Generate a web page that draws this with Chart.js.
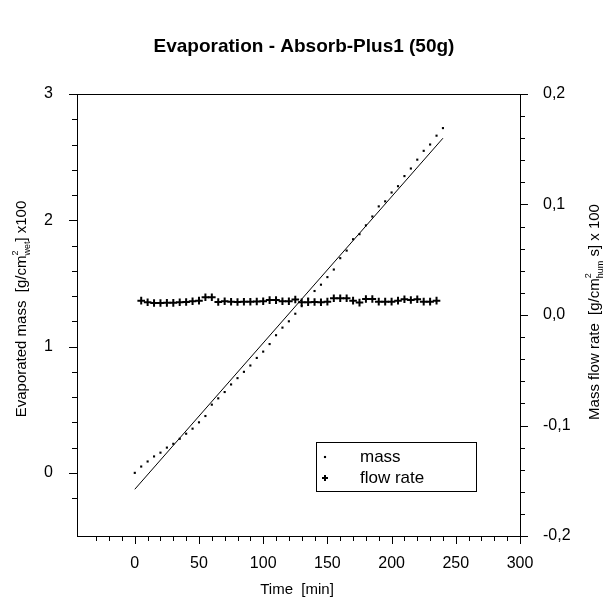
<!DOCTYPE html>
<html>
<head>
<meta charset="utf-8">
<title>Evaporation - Absorb-Plus1 (50g)</title>
<script src="https://cdn.jsdelivr.net/npm/chart.js@4.4.1/dist/chart.umd.min.js"></script>
<style>
  html, body { margin: 0; padding: 0; background: #fff; }
  canvas { display: block; }
</style>
</head>
<body>
<canvas id="evapChart" width="608" height="604"></canvas>
<script>
// evaporation chart – mass (left axis) and mass flow rate (right axis)

const CHART_TITLE = 'Evaporation - Absorb-Plus1 (50g)';

// evaporated mass [g/cm² wet] x100, read every 5 min
const massTimes = [0, 5, 10, 15, 20, 25, 30, 35, 40, 45, 50, 55, 60, 65, 70, 75, 80, 85, 90, 95,
  100, 105, 110, 115, 120, 125, 130, 135, 140, 145, 150, 155, 160, 165, 170, 175, 180, 185, 190,
  195, 200, 205, 210, 215, 220, 225, 230, 235, 240];
const massValues = [0.00, 0.05, 0.09, 0.13, 0.16, 0.20, 0.23, 0.27, 0.31, 0.35, 0.40, 0.45, 0.54,
  0.59, 0.64, 0.70, 0.75, 0.80, 0.85, 0.91, 0.96, 1.02, 1.09, 1.15, 1.20, 1.26, 1.32, 1.38, 1.44,
  1.49, 1.55, 1.61, 1.70, 1.76, 1.85, 1.89, 1.96, 2.03, 2.11, 2.15, 2.22, 2.27, 2.35, 2.41, 2.48,
  2.55, 2.60, 2.67, 2.73];

// mass flow rate [g/cm² hum s] x100
const flowTimes = [5, 10, 15, 20, 25, 30, 35, 40, 45, 50, 55, 60, 65, 70, 75, 80, 85, 90, 95, 100,
  105, 110, 115, 120, 125, 130, 135, 140, 145, 150, 155, 160, 165, 170, 175, 180, 185, 190, 195,
  200, 205, 210, 215, 220, 225, 230, 235];
const flowValues = [0.0130, 0.0115, 0.0108, 0.0108, 0.0110, 0.0110, 0.0115, 0.0118, 0.0125, 0.0130,
  0.0160, 0.0160, 0.0118, 0.0125, 0.0120, 0.0118, 0.0120, 0.0120, 0.0122, 0.0125, 0.0135, 0.0135,
  0.0125, 0.0125, 0.0140, 0.0115, 0.0115, 0.0118, 0.0115, 0.0121, 0.0151, 0.0151, 0.0151, 0.0130,
  0.0112, 0.0145, 0.0145, 0.0121, 0.0121, 0.0121, 0.0130, 0.0142, 0.0136, 0.0142, 0.0121, 0.0121,
  0.0130];

// linear fit through the mass points
const fitTimes = [0, 240];
const fitValues = [-0.13, 2.65];

// axis ranges and labelled ticks
const xRange = [-45, 300];
const xTickLabels = [0, 50, 100, 150, 200, 250, 300];
const massRange = [-0.5, 3];
const massTickLabels = [0, 1, 2, 3];
const flowRange = [-0.2, 0.2];
const flowTickLabels = ['-0,2', '-0,1', '0,0', '0,1', '0,2'];

const FONT = 'Arial, "Liberation Sans", Helvetica, sans-serif';

function toPoints(xs, ys) {
  return xs.map((x, i) => ({ x: x, y: ys[i] }));
}

// rounds float tick values so 0.06000000001 compares cleanly
function near(v, step) {
  return Math.abs(v / step - Math.round(v / step)) < 1e-6;
}

/**
 * Draws text with a stacked superscript/subscript part, centred at (cx, cy)
 * and rotated by `rot` radians.
 */
function drawRichText(ctx, parts, cx, cy, rot, size) {
  const big = size + 'px ' + FONT;
  const small = Math.round(size * 0.62) + 'px ' + FONT;
  ctx.save();
  let total = 0;
  const widths = parts.map((p) => {
    let w;
    if (p.t !== undefined) {
      ctx.font = big;
      w = ctx.measureText(p.t).width;
    } else {
      ctx.font = small;
      w = Math.max(ctx.measureText(p.sup).width, ctx.measureText(p.sub).width);
    }
    total += w;
    return w;
  });
  ctx.translate(cx, cy);
  ctx.rotate(rot);
  ctx.fillStyle = '#000';
  ctx.textBaseline = 'middle';
  ctx.textAlign = 'left';
  let x = -total / 2;
  parts.forEach((p, i) => {
    if (p.t !== undefined) {
      ctx.font = big;
      ctx.fillText(p.t, x, 0);
    } else {
      ctx.font = small;
      ctx.fillText(p.sup, x, -size * 0.4);
      ctx.fillText(p.sub, x, size * 0.38);
    }
    x += widths[i];
  });
  ctx.restore();
}

// frame, outward ticks, titles and the boxed legend
const decorPlugin = {
  id: 'decor',
  afterDraw(chart) {
    const ctx = chart.ctx;
    const area = chart.chartArea;
    const sx = chart.scales.x;
    const sy = chart.scales.y;
    const sy1 = chart.scales.y1;

    ctx.save();
    ctx.strokeStyle = '#000';
    ctx.lineWidth = 1;

    // top edge of the frame
    ctx.beginPath();
    ctx.moveTo(area.left, area.top + 0.5);
    ctx.lineTo(area.right, area.top + 0.5);
    ctx.stroke();

    ctx.beginPath();
    sx.ticks.forEach((t) => {
      if (!near(t.value, 10)) return;
      const px = Math.round(sx.getPixelForValue(t.value)) + 0.5;
      const len = near(t.value, 50) ? 8 : 5;
      ctx.moveTo(px, area.bottom);
      ctx.lineTo(px, area.bottom + len);
    });
    sy.ticks.forEach((t) => {
      if (!near(t.value, 0.2)) return;
      const py = Math.round(sy.getPixelForValue(t.value)) + 0.5;
      const len = near(t.value, 1) ? 8 : 5;
      ctx.moveTo(area.left, py);
      ctx.lineTo(area.left - len, py);
    });
    sy1.ticks.forEach((t) => {
      if (!near(t.value, 0.02)) return;
      const py = Math.round(sy1.getPixelForValue(t.value)) + 0.5;
      const len = near(t.value, 0.1) ? 8 : 5;
      ctx.moveTo(area.right, py);
      ctx.lineTo(area.right + len, py);
    });
    ctx.stroke();

    // chart title
    ctx.fillStyle = '#000';
    ctx.font = 'bold 19px ' + FONT;
    ctx.textAlign = 'center';
    ctx.textBaseline = 'middle';
    ctx.fillText(CHART_TITLE, 304, 47);

    // x axis title
    ctx.font = '15px ' + FONT;
    ctx.fillText('Time  [min]', 297, 590);
    ctx.restore();

    drawRichText(ctx, [
      { t: 'Evaporated mass  [g/cm' }, { sup: '2', sub: 'wet' }, { t: '] x100' },
    ], 22, 309, -Math.PI / 2, 15);
    drawRichText(ctx, [
      { t: 'Mass flow rate  [g/cm' }, { sup: '2', sub: 'hum' }, { t: ' s] x 100' },
    ], 595, 312, -Math.PI / 2, 15);

    // legend box
    ctx.save();
    ctx.strokeStyle = '#000';
    ctx.lineWidth = 1;
    ctx.strokeRect(316.5, 442.5, 160, 49);
    const items = [
      { label: 'mass', ds: 0, y: 457 },
      { label: 'flow rate', ds: 1, y: 478 },
    ];
    items.forEach((it) => {
      const o = chart.getDatasetMeta(it.ds).controller.getStyle(0);
      ctx.fillStyle = '#000';
      ctx.strokeStyle = '#000';
      ctx.lineWidth = o.borderWidth || 1;
      Chart.helpers.drawPoint(ctx, {
        pointStyle: o.pointStyle,
        radius: o.pointStyle === 'cross' ? 3 : o.radius,
        borderWidth: o.borderWidth,
        rotation: 0,
      }, 325, it.y);
      ctx.font = '17px ' + FONT;
      ctx.textAlign = 'left';
      ctx.textBaseline = 'middle';
      ctx.fillText(it.label, 360, it.y);
    });
    ctx.restore();
  },
};

function initChart() {
  const canvas = document.getElementById('evapChart');
  if (!canvas) return;
  const tickFont = { family: FONT, size: 16 };

  new Chart(canvas.getContext('2d'), {
    type: 'scatter',
    data: {
      datasets: [
        {
          label: 'mass',
          data: toPoints(massTimes, massValues),
          yAxisID: 'y',
          pointStyle: 'rect',
          pointRadius: 1.5,
          pointBorderWidth: 0,
          backgroundColor: '#000',
          borderColor: '#000',
        },
        {
          label: 'flow rate',
          data: toPoints(flowTimes, flowValues),
          yAxisID: 'y1',
          pointStyle: 'cross',
          pointRadius: 3.8,
          pointBorderWidth: 2,
          backgroundColor: '#000',
          borderColor: '#000',
        },
        {
          label: 'fit',
          data: toPoints(fitTimes, fitValues),
          yAxisID: 'y',
          showLine: true,
          pointRadius: 0,
          borderWidth: 1,
          borderColor: '#000',
        },
      ],
    },
    options: {
      responsive: false,
      animation: false,
      devicePixelRatio: 1,
      layout: { padding: { top: 94, left: 0, right: 0, bottom: 0 } },
      plugins: {
        legend: { display: false },
        tooltip: { enabled: false },
        title: { display: false },
      },
      scales: {
        x: {
          type: 'linear',
          min: xRange[0],
          max: xRange[1],
          grid: { display: false, drawTicks: false },
          border: { display: true, color: '#000', width: 1 },
          ticks: {
            stepSize: 10,
            autoSkip: false,
            maxRotation: 0,
            padding: 18,
            color: '#000',
            font: tickFont,
            callback: (v) => (xTickLabels.includes(Math.round(v)) && near(v, 50) ? String(Math.round(v)) : ''),
          },
          afterFit: (s) => { s.height = 68; },
        },
        y: {
          type: 'linear',
          position: 'left',
          min: massRange[0],
          max: massRange[1],
          grid: { display: false, drawTicks: false },
          border: { display: true, color: '#000', width: 1 },
          ticks: {
            stepSize: 0.2,
            autoSkip: false,
            padding: 24,
            color: '#000',
            font: tickFont,
            callback: (v) => (near(v, 1) && massTickLabels.includes(Math.round(v)) ? String(Math.round(v)) : ''),
          },
          afterFit: (s) => { s.width = 77; },
        },
        y1: {
          type: 'linear',
          position: 'right',
          min: flowRange[0],
          max: flowRange[1],
          grid: { display: false, drawTicks: false },
          border: { display: true, color: '#000', width: 1 },
          ticks: {
            stepSize: 0.02,
            autoSkip: false,
            padding: 23,
            color: '#000',
            font: tickFont,
            callback: (v) => {
              if (!near(v, 0.1)) return '';
              const idx = Math.round(v / 0.1) + 2;
              return flowTickLabels[idx] || '';
            },
          },
          afterFit: (s) => { s.width = 88; },
        },
      },
    },
    plugins: [decorPlugin],
  });
}

document.addEventListener('DOMContentLoaded', initChart);
</script>
</body>
</html>
